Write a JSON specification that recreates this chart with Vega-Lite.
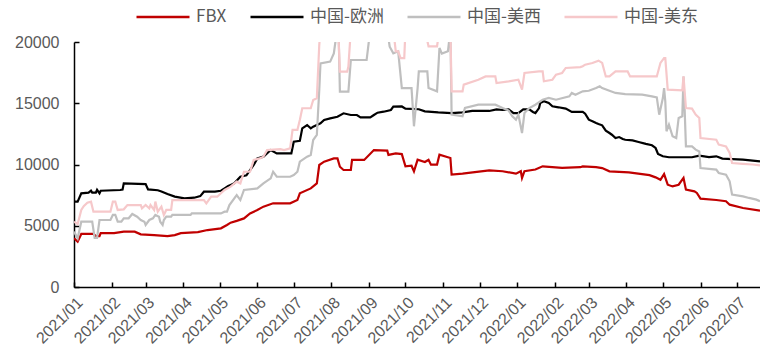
{
  "$schema": "https://vega.github.io/schema/vega-lite/v6.json",
  "width": 686,
  "height": 245,
  "autosize": {"type": "none"},
  "padding": {"left": 74, "top": 42, "right": 0, "bottom": 68},
  "background": "white",
  "config": {"view": {"stroke": null}, "font": "Liberation Sans"},
  "datasets": {
    "fbx": [
      {"date":"2021-01-01","value":3970},{"date":"2021-01-04","value":3700},{"date":"2021-01-07","value":4330},{"date":"2021-01-17","value":4330},{"date":"2021-01-19","value":4160},{"date":"2021-01-22","value":4160},{"date":"2021-01-23","value":4400},{"date":"2021-02-03","value":4400},{"date":"2021-02-11","value":4520},{"date":"2021-02-20","value":4520},{"date":"2021-02-25","value":4300},{"date":"2021-03-08","value":4240},{"date":"2021-03-19","value":4160},{"date":"2021-03-25","value":4240},{"date":"2021-03-30","value":4400},{"date":"2021-04-13","value":4480},{"date":"2021-04-21","value":4650},{"date":"2021-05-02","value":4790},{"date":"2021-05-07","value":5060},{"date":"2021-05-10","value":5250},{"date":"2021-05-15","value":5400},{"date":"2021-05-21","value":5600},{"date":"2021-05-26","value":6010},{"date":"2021-06-01","value":6280},{"date":"2021-06-06","value":6560},{"date":"2021-06-14","value":6830},{"date":"2021-06-28","value":6830},{"date":"2021-07-04","value":7100},{"date":"2021-07-06","value":7650},{"date":"2021-07-15","value":8050},{"date":"2021-07-20","value":8460},{"date":"2021-07-22","value":9960},{"date":"2021-07-26","value":10230},{"date":"2021-08-03","value":10500},{"date":"2021-08-06","value":10500},{"date":"2021-08-08","value":9820},{"date":"2021-08-11","value":9550},{"date":"2021-08-17","value":9550},{"date":"2021-08-18","value":10370},{"date":"2021-08-28","value":10370},{"date":"2021-09-05","value":11180},{"date":"2021-09-16","value":11130},{"date":"2021-09-17","value":10780},{"date":"2021-09-23","value":10900},{"date":"2021-09-28","value":10850},{"date":"2021-10-01","value":9850},{"date":"2021-10-06","value":9900},{"date":"2021-10-08","value":9440},{"date":"2021-10-11","value":10390},{"date":"2021-10-17","value":10200},{"date":"2021-10-20","value":10390},{"date":"2021-10-22","value":9990},{"date":"2021-10-27","value":9990},{"date":"2021-10-29","value":10800},{"date":"2021-11-07","value":10530},{"date":"2021-11-08","value":9170},{"date":"2021-11-17","value":9250},{"date":"2021-11-22","value":9310},{"date":"2021-12-09","value":9520},{"date":"2021-12-20","value":9450},{"date":"2021-12-31","value":9250},{"date":"2022-01-04","value":9450},{"date":"2022-01-05","value":8900},{"date":"2022-01-07","value":9450},{"date":"2022-01-16","value":9590},{"date":"2022-01-22","value":9850},{"date":"2022-02-07","value":9720},{"date":"2022-02-22","value":9780},{"date":"2022-02-24","value":9850},{"date":"2022-03-07","value":9780},{"date":"2022-03-12","value":9710},{"date":"2022-03-18","value":9440},{"date":"2022-04-03","value":9360},{"date":"2022-04-20","value":9130},{"date":"2022-04-25","value":8950},{"date":"2022-04-29","value":8750},{"date":"2022-05-02","value":9220},{"date":"2022-05-05","value":8350},{"date":"2022-05-09","value":8210},{"date":"2022-05-14","value":8350},{"date":"2022-05-18","value":8900},{"date":"2022-05-20","value":7950},{"date":"2022-05-27","value":7810},{"date":"2022-05-29","value":7680},{"date":"2022-06-01","value":7210},{"date":"2022-06-14","value":7100},{"date":"2022-06-22","value":7000},{"date":"2022-06-25","value":6720},{"date":"2022-07-06","value":6450},{"date":"2022-07-20","value":6230}
    ],
    "eu": [
      {"date":"2021-01-01","value":6970},{"date":"2021-01-04","value":6970},{"date":"2021-01-07","value":7650},{"date":"2021-01-13","value":7700},{"date":"2021-01-15","value":7860},{"date":"2021-01-16","value":7700},{"date":"2021-01-19","value":7700},{"date":"2021-01-20","value":7930},{"date":"2021-01-22","value":7650},{"date":"2021-01-23","value":7860},{"date":"2021-02-08","value":7920},{"date":"2021-02-10","value":7950},{"date":"2021-02-11","value":8460},{"date":"2021-03-01","value":8400},{"date":"2021-03-03","value":7970},{"date":"2021-03-11","value":7900},{"date":"2021-03-14","value":7800},{"date":"2021-03-19","value":7590},{"date":"2021-03-25","value":7375},{"date":"2021-04-02","value":7240},{"date":"2021-04-10","value":7290},{"date":"2021-04-15","value":7420},{"date":"2021-04-18","value":7780},{"date":"2021-04-27","value":7780},{"date":"2021-05-02","value":7860},{"date":"2021-05-05","value":8050},{"date":"2021-05-08","value":8245},{"date":"2021-05-10","value":8330},{"date":"2021-05-13","value":8460},{"date":"2021-05-18","value":9000},{"date":"2021-05-23","value":9120},{"date":"2021-05-29","value":9960},{"date":"2021-06-01","value":10500},{"date":"2021-06-06","value":10640},{"date":"2021-06-12","value":11180},{"date":"2021-06-17","value":10910},{"date":"2021-06-29","value":10910},{"date":"2021-07-01","value":11860},{"date":"2021-07-06","value":11930},{"date":"2021-07-08","value":12950},{"date":"2021-07-12","value":13220},{"date":"2021-07-15","value":12950},{"date":"2021-07-17","value":13090},{"date":"2021-07-23","value":13360},{"date":"2021-07-26","value":13630},{"date":"2021-07-31","value":13770},{"date":"2021-08-06","value":13900},{"date":"2021-08-11","value":14180},{"date":"2021-08-17","value":14040},{"date":"2021-08-22","value":14040},{"date":"2021-08-25","value":13850},{"date":"2021-09-02","value":13850},{"date":"2021-09-05","value":14040},{"date":"2021-09-08","value":14230},{"date":"2021-09-13","value":14310},{"date":"2021-09-19","value":14450},{"date":"2021-09-21","value":14720},{"date":"2021-09-28","value":14740},{"date":"2021-10-01","value":14560},{"date":"2021-10-12","value":14510},{"date":"2021-10-17","value":14340},{"date":"2021-10-28","value":14250},{"date":"2021-11-08","value":14200},{"date":"2021-11-17","value":14250},{"date":"2021-11-25","value":14370},{"date":"2021-12-09","value":14370},{"date":"2021-12-15","value":14500},{"date":"2021-12-20","value":14450},{"date":"2021-12-25","value":14500},{"date":"2021-12-29","value":14200},{"date":"2022-01-02","value":14200},{"date":"2022-01-06","value":14500},{"date":"2022-01-11","value":14500},{"date":"2022-01-14","value":14290},{"date":"2022-01-16","value":14200},{"date":"2022-01-19","value":14610},{"date":"2022-01-20","value":15020},{"date":"2022-01-23","value":15160},{"date":"2022-01-27","value":15020},{"date":"2022-01-30","value":14750},{"date":"2022-02-04","value":14670},{"date":"2022-02-10","value":14560},{"date":"2022-02-15","value":14290},{"date":"2022-02-24","value":14290},{"date":"2022-02-26","value":14150},{"date":"2022-03-01","value":13660},{"date":"2022-03-04","value":13530},{"date":"2022-03-07","value":13390},{"date":"2022-03-09","value":13310},{"date":"2022-03-12","value":13200},{"date":"2022-03-15","value":12760},{"date":"2022-03-18","value":12570},{"date":"2022-03-20","value":12430},{"date":"2022-03-23","value":12160},{"date":"2022-03-26","value":12240},{"date":"2022-03-29","value":12080},{"date":"2022-03-31","value":12020},{"date":"2022-04-06","value":11970},{"date":"2022-04-11","value":11840},{"date":"2022-04-17","value":11680},{"date":"2022-04-22","value":11570},{"date":"2022-04-25","value":11350},{"date":"2022-04-27","value":10860},{"date":"2022-05-01","value":10670},{"date":"2022-05-06","value":10590},{"date":"2022-05-25","value":10590},{"date":"2022-05-31","value":10720},{"date":"2022-06-08","value":10610},{"date":"2022-06-14","value":10670},{"date":"2022-06-19","value":10480},{"date":"2022-07-06","value":10400},{"date":"2022-07-20","value":10260}
    ],
    "usw": [
      {"date":"2021-01-01","value":4520},{"date":"2021-01-04","value":3970},{"date":"2021-01-07","value":5330},{"date":"2021-01-16","value":5330},{"date":"2021-01-18","value":4000},{"date":"2021-01-20","value":4000},{"date":"2021-01-22","value":5470},{"date":"2021-01-31","value":5470},{"date":"2021-02-02","value":5880},{"date":"2021-02-04","value":5880},{"date":"2021-02-06","value":5330},{"date":"2021-02-09","value":5330},{"date":"2021-02-11","value":5610},{"date":"2021-02-15","value":5610},{"date":"2021-02-18","value":5960},{"date":"2021-02-22","value":5740},{"date":"2021-02-25","value":5470},{"date":"2021-02-28","value":5330},{"date":"2021-03-01","value":5060},{"date":"2021-03-04","value":5470},{"date":"2021-03-07","value":5610},{"date":"2021-03-09","value":5880},{"date":"2021-03-12","value":5740},{"date":"2021-03-13","value":5330},{"date":"2021-03-15","value":5060},{"date":"2021-03-16","value":5470},{"date":"2021-03-18","value":5740},{"date":"2021-03-22","value":5740},{"date":"2021-03-23","value":5880},{"date":"2021-04-07","value":5880},{"date":"2021-04-08","value":6010},{"date":"2021-05-02","value":6010},{"date":"2021-05-05","value":6150},{"date":"2021-05-07","value":6150},{"date":"2021-05-09","value":6690},{"date":"2021-05-15","value":7510},{"date":"2021-05-18","value":7100},{"date":"2021-05-21","value":7920},{"date":"2021-06-01","value":8050},{"date":"2021-06-06","value":8460},{"date":"2021-06-12","value":8870},{"date":"2021-06-14","value":9410},{"date":"2021-06-17","value":9000},{"date":"2021-06-28","value":9000},{"date":"2021-07-01","value":9140},{"date":"2021-07-04","value":9410},{"date":"2021-07-06","value":10230},{"date":"2021-07-12","value":10640},{"date":"2021-07-15","value":10780},{"date":"2021-07-17","value":12000},{"date":"2021-07-20","value":12410},{"date":"2021-07-22","value":16080},{"date":"2021-07-23","value":18260},{"date":"2021-07-31","value":18400},{"date":"2021-08-03","value":19070},{"date":"2021-08-05","value":20500},{"date":"2021-08-07","value":20500},{"date":"2021-08-08","value":15950},{"date":"2021-08-15","value":15950},{"date":"2021-08-17","value":18530},{"date":"2021-08-30","value":18530},{"date":"2021-09-02","value":21000},{"date":"2021-09-16","value":21000},{"date":"2021-09-18","value":19620},{"date":"2021-09-21","value":19070},{"date":"2021-09-25","value":19240},{"date":"2021-09-28","value":16240},{"date":"2021-10-06","value":16240},{"date":"2021-10-08","value":13120},{"date":"2021-10-11","value":16240},{"date":"2021-10-12","value":17600},{"date":"2021-10-19","value":17600},{"date":"2021-10-20","value":16240},{"date":"2021-10-27","value":15970},{"date":"2021-10-29","value":19510},{"date":"2021-10-31","value":19050},{"date":"2021-11-05","value":19240},{"date":"2021-11-07","value":21000},{"date":"2021-11-08","value":14070},{"date":"2021-11-17","value":13930},{"date":"2021-11-19","value":14610},{"date":"2021-11-30","value":14880},{"date":"2021-12-14","value":14880},{"date":"2021-12-20","value":14610},{"date":"2021-12-25","value":14400},{"date":"2021-12-28","value":13930},{"date":"2021-12-31","value":13660},{"date":"2022-01-02","value":14070},{"date":"2022-01-05","value":12570},{"date":"2022-01-07","value":14200},{"date":"2022-01-11","value":14610},{"date":"2022-01-16","value":14880},{"date":"2022-01-22","value":15290},{"date":"2022-01-27","value":15430},{"date":"2022-02-02","value":15290},{"date":"2022-02-13","value":15560},{"date":"2022-02-15","value":15840},{"date":"2022-02-18","value":15700},{"date":"2022-02-24","value":15970},{"date":"2022-03-01","value":16020},{"date":"2022-03-07","value":16240},{"date":"2022-03-10","value":16380},{"date":"2022-03-12","value":16240},{"date":"2022-03-18","value":16020},{"date":"2022-03-23","value":15840},{"date":"2022-03-31","value":15750},{"date":"2022-04-14","value":15700},{"date":"2022-04-22","value":15560},{"date":"2022-04-26","value":15480},{"date":"2022-04-28","value":14070},{"date":"2022-05-01","value":15420},{"date":"2022-05-02","value":16240},{"date":"2022-05-03","value":15150},{"date":"2022-05-04","value":12710},{"date":"2022-05-06","value":13250},{"date":"2022-05-09","value":12300},{"date":"2022-05-12","value":12160},{"date":"2022-05-14","value":13800},{"date":"2022-05-17","value":13930},{"date":"2022-05-18","value":17190},{"date":"2022-05-20","value":11480},{"date":"2022-05-25","value":11480},{"date":"2022-05-28","value":11210},{"date":"2022-05-31","value":11070},{"date":"2022-06-01","value":9710},{"date":"2022-06-14","value":9580},{"date":"2022-06-16","value":9310},{"date":"2022-06-22","value":9170},{"date":"2022-06-25","value":8630},{"date":"2022-06-27","value":7540},{"date":"2022-07-06","value":7400},{"date":"2022-07-11","value":7270},{"date":"2022-07-17","value":7130},{"date":"2022-07-20","value":7000}
    ],
    "use": [
      {"date":"2021-01-01","value":5330},{"date":"2021-01-04","value":5140},{"date":"2021-01-07","value":6290},{"date":"2021-01-09","value":6600},{"date":"2021-01-12","value":6880},{"date":"2021-01-15","value":6970},{"date":"2021-01-17","value":6150},{"date":"2021-01-31","value":6150},{"date":"2021-02-02","value":6970},{"date":"2021-02-04","value":6970},{"date":"2021-02-06","value":6290},{"date":"2021-02-11","value":6340},{"date":"2021-02-14","value":6690},{"date":"2021-02-25","value":6690},{"date":"2021-02-26","value":6420},{"date":"2021-03-01","value":6690},{"date":"2021-03-04","value":6420},{"date":"2021-03-05","value":6690},{"date":"2021-03-08","value":6290},{"date":"2021-03-09","value":6970},{"date":"2021-03-11","value":6150},{"date":"2021-03-14","value":6560},{"date":"2021-03-16","value":5880},{"date":"2021-03-18","value":6290},{"date":"2021-03-22","value":6290},{"date":"2021-03-23","value":7100},{"date":"2021-04-18","value":7100},{"date":"2021-04-20","value":6830},{"date":"2021-04-24","value":7370},{"date":"2021-04-29","value":7370},{"date":"2021-05-02","value":7650},{"date":"2021-05-05","value":7920},{"date":"2021-05-10","value":8190},{"date":"2021-05-15","value":8600},{"date":"2021-05-18","value":8460},{"date":"2021-05-21","value":9410},{"date":"2021-05-26","value":9410},{"date":"2021-05-29","value":10370},{"date":"2021-06-03","value":10500},{"date":"2021-06-06","value":10640},{"date":"2021-06-09","value":11180},{"date":"2021-06-20","value":11250},{"date":"2021-06-23","value":11180},{"date":"2021-06-28","value":11320},{"date":"2021-06-30","value":12820},{"date":"2021-07-04","value":12820},{"date":"2021-07-06","value":13630},{"date":"2021-07-08","value":14590},{"date":"2021-07-15","value":14590},{"date":"2021-07-17","value":15270},{"date":"2021-07-20","value":15400},{"date":"2021-07-22","value":19750},{"date":"2021-07-23","value":21000},{"date":"2021-08-06","value":21000},{"date":"2021-08-07","value":20000},{"date":"2021-08-08","value":17580},{"date":"2021-08-14","value":17580},{"date":"2021-08-15","value":18000},{"date":"2021-08-17","value":21000},{"date":"2021-09-21","value":21000},{"date":"2021-09-23","value":19240},{"date":"2021-09-25","value":19240},{"date":"2021-09-27","value":18690},{"date":"2021-09-30","value":18690},{"date":"2021-10-01","value":21000},{"date":"2021-10-17","value":21000},{"date":"2021-10-20","value":19650},{"date":"2021-10-27","value":19650},{"date":"2021-10-29","value":21000},{"date":"2021-11-07","value":21000},{"date":"2021-11-08","value":15970},{"date":"2021-11-17","value":15970},{"date":"2021-11-18","value":16520},{"date":"2021-11-30","value":16920},{"date":"2021-12-06","value":17190},{"date":"2021-12-14","value":17190},{"date":"2021-12-15","value":16650},{"date":"2021-12-25","value":16790},{"date":"2022-01-02","value":16920},{"date":"2022-01-05","value":16110},{"date":"2022-01-07","value":17470},{"date":"2022-01-19","value":17600},{"date":"2022-01-22","value":17600},{"date":"2022-01-23","value":16790},{"date":"2022-01-30","value":16920},{"date":"2022-02-02","value":17330},{"date":"2022-02-07","value":17470},{"date":"2022-02-10","value":17880},{"date":"2022-02-22","value":17950},{"date":"2022-02-24","value":18020},{"date":"2022-02-26","value":18150},{"date":"2022-03-04","value":18290},{"date":"2022-03-09","value":18480},{"date":"2022-03-12","value":18290},{"date":"2022-03-15","value":17190},{"date":"2022-03-18","value":17190},{"date":"2022-03-23","value":17600},{"date":"2022-04-02","value":17600},{"date":"2022-04-04","value":17190},{"date":"2022-04-26","value":17190},{"date":"2022-04-29","value":18290},{"date":"2022-05-02","value":18690},{"date":"2022-05-03","value":18690},{"date":"2022-05-05","value":16110},{"date":"2022-05-17","value":16050},{"date":"2022-05-18","value":17200},{"date":"2022-05-20","value":14610},{"date":"2022-05-25","value":14560},{"date":"2022-05-28","value":14070},{"date":"2022-05-31","value":13800},{"date":"2022-06-01","value":12160},{"date":"2022-06-14","value":12020},{"date":"2022-06-16","value":11620},{"date":"2022-06-22","value":11480},{"date":"2022-06-25","value":10940},{"date":"2022-06-27","value":10120},{"date":"2022-07-06","value":10050},{"date":"2022-07-14","value":10000},{"date":"2022-07-20","value":9930}
    ]
  },
  "encoding": {
    "x": {
      "field": "date", "type": "temporal",
      "scale": {"type": "utc", "domain": [{"year": 2021, "month": 1, "date": 1, "utc": true}, {"year": 2022, "month": 7, "date": 20, "utc": true}]},
      "axis": {"format": "%Y/%m", "tickCount": {"interval": "month", "step": 1}, "labelAngle": -45, "labelAlign": "right", "labelBaseline": "top", "labelFontSize": 16, "labelColor": "#595959", "labelPadding": 12, "tickSize": -5, "tickColor": "#000000", "tickWidth": 1.5, "domainColor": "#000000", "domainWidth": 1.5, "grid": false, "title": null, "labelFlush": false, "labelOverlap": false}
    },
    "y": {
      "field": "value", "type": "quantitative",
      "scale": {"domain": [0, 20000]},
      "axis": {"values": [0, 5000, 10000, 15000, 20000], "format": "d", "labelFontSize": 16, "labelColor": "#595959", "labelPadding": 20, "tickSize": -5, "tickColor": "#000000", "tickWidth": 1.5, "domainColor": "#000000", "domainWidth": 1.5, "grid": false, "title": null}
    },
    "color": {
      "field": "series", "type": "nominal",
      "scale": {"domain": ["FBX", "中国-欧洲", "中国-美西", "中国-美东"], "range": ["#C00000", "#000000", "#BFBFBF", "#F6C8CA"]},
      "legend": {"orient": "none", "legendX": 61, "legendY": -53, "direction": "horizontal", "title": null, "symbolType": "stroke", "symbolSize": 2809, "symbolStrokeWidth": 2.5, "labelFontSize": 17, "labelFont": "Noto Sans CJK SC", "labelColor": "#595959", "labelOffset": 5, "columnPadding": 18, "padding": 0, "labelLimit": 300}
    }
  },
  "layer": [
    {"data": {"name": "fbx"}, "transform": [{"calculate": "'FBX'", "as": "series"}], "mark": {"type": "line", "strokeWidth": 2.2, "clip": true}},
    {"data": {"name": "eu"}, "transform": [{"calculate": "'中国-欧洲'", "as": "series"}], "mark": {"type": "line", "strokeWidth": 2.2, "clip": true}},
    {"data": {"name": "usw"}, "transform": [{"calculate": "'中国-美西'", "as": "series"}], "mark": {"type": "line", "strokeWidth": 2.2, "clip": true}},
    {"data": {"name": "use"}, "transform": [{"calculate": "'中国-美东'", "as": "series"}], "mark": {"type": "line", "strokeWidth": 2.2, "clip": true}}
  ]
}
